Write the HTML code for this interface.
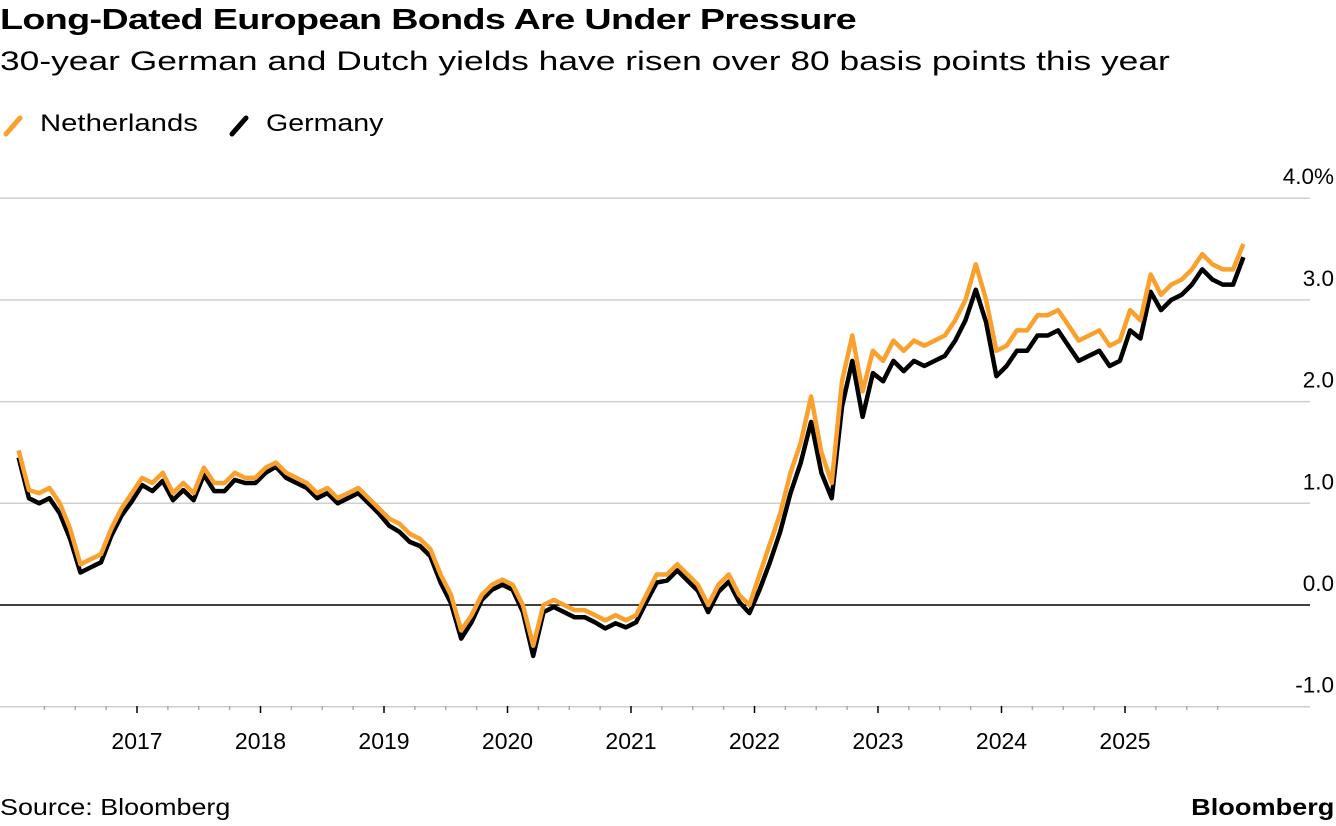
<!DOCTYPE html>
<html><head><meta charset="utf-8"><style>
body{margin:0;background:#fff;font-family:"Liberation Sans",sans-serif;}
#wrap{position:relative;width:1336px;height:826px;overflow:hidden;}
.t{position:absolute;white-space:nowrap;color:#000;transform-origin:left top;}
</style></head><body>
<div id="wrap">
<div class="t" style="left:0;top:4px;font-size:29px;font-weight:bold;letter-spacing:-0.5px;transform:scaleX(1.3)">Long-Dated European Bonds Are Under Pressure</div>
<div class="t" style="left:0;top:46px;font-size:27px;transform:scaleX(1.31)">30-year German and Dutch yields have risen over 80 basis points this year</div>
<div>
<svg class="t" style="left:2px;top:114px" width="24" height="24"><line x1="4" y1="20" x2="18" y2="4" stroke="#f9a02d" stroke-width="5" stroke-linecap="round"/></svg>
<div class="t" style="left:40px;top:110px;font-size:24px;transform:scaleX(1.22)">Netherlands</div>
<svg class="t" style="left:228px;top:114px" width="24" height="24"><line x1="4" y1="20" x2="18" y2="4" stroke="#000" stroke-width="5" stroke-linecap="round"/></svg>
<div class="t" style="left:266px;top:110px;font-size:24px;transform:scaleX(1.19)">Germany</div>
</div>
<svg id="plot" class="t" style="left:0;top:0" width="1336" height="826"></svg>
<div class="t" style="left:0;top:794px;font-size:23px;transform:scaleX(1.17)">Source: Bloomberg</div>
<div class="t" style="right:2px;top:794px;font-size:23px;font-weight:bold;transform-origin:right top;transform:scaleX(1.18)">Bloomberg</div>
</div>
<script>
const startYear = 2016;
const yTicks = [4, 3, 2, 1, 0, -1];
const yTickLabels = ["4.0%", "3.0", "2.0", "1.0", "0.0", "-1.0"];
const xYears = [2017, 2018, 2019, 2020, 2021, 2022, 2023, 2024, 2025];
const netherlands = [
1.52,1.13,1.1,1.15,1.0,0.75,0.4,0.45,0.5,0.75,0.95,1.1,
1.25,1.2,1.3,1.1,1.2,1.1,1.35,1.2,1.2,1.3,1.25,1.25,
1.35,1.4,1.3,1.25,1.2,1.1,1.15,1.05,1.1,1.15,1.05,0.95,
0.85,0.8,0.7,0.65,0.55,0.3,0.1,-0.25,-0.1,0.1,0.2,0.25,
0.2,0.0,-0.4,0.0,0.05,0.0,-0.05,-0.05,-0.1,-0.15,-0.1,-0.15,
-0.1,0.1,0.3,0.3,0.4,0.3,0.2,0.0,0.2,0.3,0.1,0.0,
0.3,0.6,0.9,1.3,1.6,2.05,1.5,1.2,2.2,2.65,2.1,2.5,
2.4,2.6,2.5,2.6,2.55,2.6,2.65,2.8,3.0,3.35,3.0,2.5,
2.55,2.7,2.7,2.85,2.85,2.9,2.75,2.6,2.65,2.7,2.55,2.6,
2.9,2.8,3.25,3.05,3.15,3.2,3.3,3.45,3.35,3.3,3.3,3.55];
const germany = [
1.45,1.05,1.0,1.05,0.9,0.65,0.32,0.37,0.42,0.68,0.88,1.02,
1.18,1.12,1.22,1.03,1.13,1.03,1.28,1.12,1.12,1.23,1.2,1.2,
1.3,1.36,1.25,1.2,1.15,1.05,1.1,1.0,1.05,1.1,1.0,0.9,
0.78,0.72,0.62,0.58,0.48,0.22,0.02,-0.33,-0.17,0.05,0.15,0.2,
0.15,-0.07,-0.5,-0.07,-0.02,-0.07,-0.12,-0.12,-0.17,-0.23,-0.18,-0.22,
-0.17,0.03,0.22,0.24,0.34,0.24,0.14,-0.07,0.13,0.23,0.03,-0.08,
0.15,0.42,0.72,1.1,1.4,1.8,1.3,1.05,1.95,2.4,1.85,2.28,
2.2,2.4,2.3,2.4,2.35,2.4,2.45,2.6,2.8,3.1,2.78,2.25,
2.35,2.5,2.5,2.65,2.65,2.7,2.55,2.4,2.45,2.5,2.35,2.4,
2.7,2.62,3.08,2.9,3.0,3.05,3.15,3.3,3.2,3.15,3.15,3.42];
const svg = document.getElementById('plot');
const NS = 'http://www.w3.org/2000/svg';
function xs(t){ return 137 + (t - 2017) * 123.5; }
function ys(v){ return 605 - v * 101.7; }
function mk(tag, attrs){ const e = document.createElementNS(NS, tag); for (const k in attrs) e.setAttribute(k, attrs[k]); svg.appendChild(e); return e; }
yTicks.forEach((v, i) => {
  const g = mk('line', {x1:0, x2:1310, y1:ys(v), y2:ys(v), stroke: v===0?'#000':'#cfcfcf', 'stroke-width':1.5});
  
  
  const tx = mk('text', {x:1334, y:ys(v)-14, 'text-anchor':'end', 'font-size':22.5, 'font-family':'Liberation Sans, sans-serif'});
  tx.textContent = yTickLabels[i];
  
  
});
for (let q = 1; q < 40; q++) {
  const t = startYear + q / 4;
  const major = q % 4 === 0;
  const tk = mk('line', {x1:xs(t), x2:xs(t), y1:706, y2: major?713:710, stroke: major?'#000':'#aaa', 'stroke-width':1.5});
  
  
}
xYears.forEach(y => {
  const tx = mk('text', {x:xs(y), y:749, 'text-anchor':'middle', 'font-size':23, 'font-family':'Liberation Sans, sans-serif'});
  tx.textContent = y;
  
  
});
function path(arr){ return arr.map((v, i) => (i ? 'L' : 'M') + xs(startYear + (i + 0.5) / 12).toFixed(1) + ',' + ys(v).toFixed(1)).join(''); }
const lg = mk('path', {d:path(germany), fill:'none', stroke:'#000', 'stroke-width':4.5, 'stroke-linejoin':'round'});


const ln = mk('path', {d:path(netherlands), fill:'none', stroke:'#f9a02d', 'stroke-width':4.5, 'stroke-linejoin':'round'});


</script>
</body></html>
